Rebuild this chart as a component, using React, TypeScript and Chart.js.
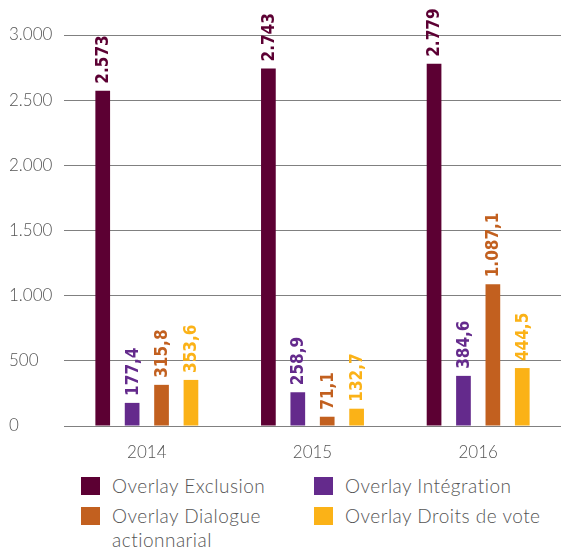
import React, { useEffect, useRef } from "react";
import { Chart, registerables } from "chart.js";

Chart.register(...registerables);

const categories = ["2014", "2015", "2016"];
const seriesNames = [
  "Overlay Exclusion",
  "Overlay Intégration",
  "Overlay Dialogue actionnarial",
  "Overlay Droits de vote",
];
const exclusion = [2573, 2743, 2779];
const integration = [177.4, 258.9, 384.6];
const dialogue = [315.8, 71.1, 1087.1];
const droits = [353.6, 132.7, 444.5];
const decimals = [0, 1, 1, 1];
const colors = ["#5c0033", "#642a8c", "#c2601f", "#fbb217"];
const yTicks = [0, 500, 1000, 1500, 2000, 2500, 3000];

const FONT = "Lato, 'Open Sans', sans-serif";
const TEXT = "#555555";

function fmt(v: number, dec: number): string {
  const fixed = v.toFixed(dec);
  const [intPart, decPart] = fixed.split(".");
  const withSep = intPart.replace(/\B(?=(\d{3})+(?!\d))/g, ".");
  return decPart ? withSep + "," + decPart : withSep;
}

const valueLabels = {
  id: "valueLabels",
  afterDatasetsDraw(chart: any) {
    const ctx = chart.ctx;
    chart.data.datasets.forEach((ds: any, di: number) => {
      const meta = chart.getDatasetMeta(di);
      meta.data.forEach((bar: any, i: number) => {
        const v = ds.data[i];
        ctx.save();
        ctx.translate(bar.x, bar.y - 7);
        ctx.rotate(-Math.PI / 2);
        ctx.font = "bold 17px 'DejaVu Sans Condensed', 'DejaVu Sans', sans-serif";
        ctx.fillStyle = colors[di];
        ctx.textAlign = "left";
        ctx.textBaseline = "middle";
        ctx.fillText(fmt(v, decimals[di]), 0, 1);
        ctx.restore();
      });
    });
  },
};

export default function App() {
  const ref = useRef<HTMLCanvasElement | null>(null);

  useEffect(() => {
    if (!ref.current) return;
    const series = [exclusion, integration, dialogue, droits];
    const chart = new Chart(ref.current, {
      type: "bar",
      data: {
        labels: categories,
        datasets: series.map((d, i) => ({
          label: seriesNames[i],
          data: d,
          backgroundColor: colors[i],
          borderWidth: 0,
          categoryPercentage: 0.71,
          barPercentage: 0.5,
        })),
      },
      options: {
        animation: false,
        responsive: true,
        maintainAspectRatio: false,
        layout: { padding: { left: 9, right: 0, top: 35, bottom: 0 } },
        plugins: {
          legend: { display: false },
          tooltip: { enabled: false },
        },
        scales: {
          x: {
            offset: true,
            grid: { display: false, drawTicks: false },
            border: { display: false },
            ticks: {
              color: TEXT,
              font: { family: FONT, size: 17, weight: "300" as any },
              padding: 16,
            },
            afterFit: (scale: any) => {
              scale.height = 44;
            },
          },
          y: {
            min: 0,
            max: 3000,
            afterBuildTicks: (scale: any) => {
              scale.ticks = yTicks.map((v) => ({ value: v }));
            },
            grid: { color: "#808080", lineWidth: 1, drawTicks: false },
            border: { display: false },
            ticks: {
              color: TEXT,
              font: { family: FONT, size: 17, weight: "300" as any },
              crossAlign: "far",
              padding: 0,
              callback: (v: any) => fmt(Number(v), 0),
            },
            afterFit: (scale: any) => {
              scale.width = 55;
            },
          },
        },
      },
      plugins: [valueLabels],
    });
    return () => chart.destroy();
  }, []);

  const legendItem = (i: number, col: number, row: number) => (
    <div
      key={i}
      style={{
        position: "absolute",
        left: col === 0 ? 81 : 314,
        top: row === 0 ? 474 : 504,
        display: "flex",
        alignItems: "flex-start",
      }}
    >
      <div
        style={{
          width: 19,
          height: 18,
          marginTop: 3,
          background: colors[i],
          flex: "0 0 auto",
        }}
      />
      <div
        style={{
          marginLeft: 12,
          width: 215,
          fontFamily: FONT,
          fontWeight: 300,
          fontSize: 19,
          letterSpacing: "0.5px",
          lineHeight: "24px",
          color: TEXT,
          whiteSpace: "nowrap",
        }}
      >
        {i === 2 ? (
          <>
            Overlay Dialogue
            <br />
            actionnarial
          </>
        ) : (
          seriesNames[i]
        )}
      </div>
    </div>
  );

  return (
    <div style={{ position: "absolute", left: 0, top: 0, width: 561, height: 549, background: "#fff" }}>
      <div style={{ position: "absolute", left: 0, top: 0, width: 561, height: 470 }}>
        <canvas ref={ref} />
      </div>
      {legendItem(0, 0, 0)}
      {legendItem(1, 1, 0)}
      {legendItem(2, 0, 1)}
      {legendItem(3, 1, 1)}
    </div>
  );
}
